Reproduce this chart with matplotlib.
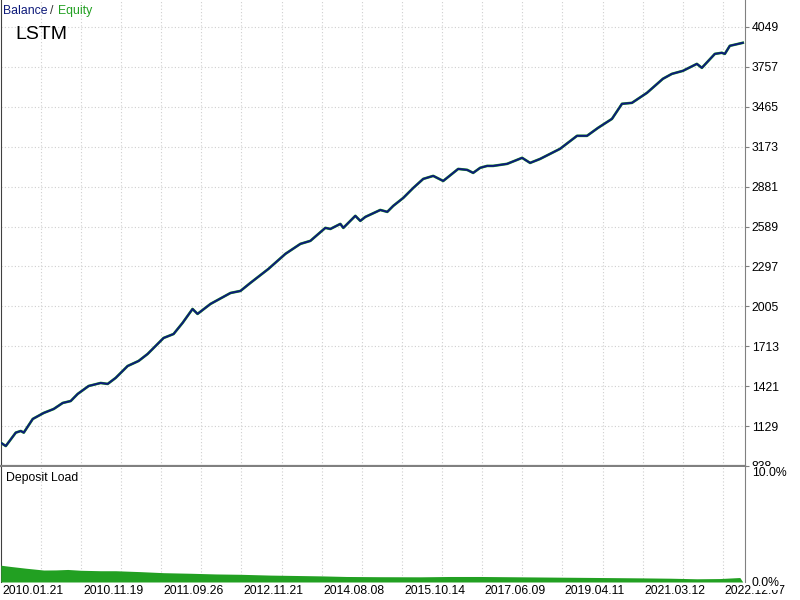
import numpy as np
import matplotlib
matplotlib.use("Agg")
import matplotlib.pyplot as plt

plt.rcParams['font.family'] = ['Liberation Sans', 'DejaVu Sans']

# deal index (x) and balance values
deal = [0, 5, 15, 20, 23, 32, 43, 53, 62, 70, 77, 88, 100, 107, 115, 127, 138, 147,
        163, 173, 182, 192, 197, 210, 230, 240, 250, 268, 285, 300, 310, 325, 330,
        340, 343, 355, 360, 365, 380, 387, 393, 403, 413, 423, 433, 443, 458, 467,
        473, 480, 487, 493, 507, 522, 530, 540, 560, 577, 587, 598, 612, 622, 632,
        647, 663, 672, 683, 697, 702, 715, 722, 725, 730, 743]
balance = [1008, 984, 1082, 1094, 1082, 1182, 1226, 1255, 1299, 1313, 1365, 1423,
           1445, 1438, 1482, 1569, 1606, 1657, 1774, 1803, 1884, 1986, 1950, 2023,
           2103, 2118, 2177, 2279, 2389, 2462, 2484, 2579, 2571, 2608, 2579, 2667,
           2630, 2659, 2710, 2696, 2740, 2798, 2871, 2937, 2959, 2922, 3010, 3003,
           2981, 3018, 3032, 3032, 3047, 3091, 3054, 3083, 3157, 3252, 3252, 3310,
           3376, 3486, 3493, 3566, 3669, 3705, 3727, 3778, 3749, 3851, 3859, 3851,
           3910, 3932]
equity = list(balance)

load_x = [0, 10, 25, 43, 55, 67, 80, 100, 115, 140, 163, 190, 215, 240, 270, 300,
          322, 346, 380, 420, 450, 480, 520, 560, 600, 640, 670, 697, 720, 740, 743]
load = [1.46, 1.35, 1.2, 1.04, 1.05, 1.09, 1.02, 0.98, 0.98, 0.9, 0.81, 0.76, 0.7,
        0.67, 0.6, 0.56, 0.53, 0.48, 0.46, 0.45, 0.48, 0.48, 0.45, 0.42, 0.39, 0.36,
        0.33, 0.28, 0.30, 0.39, 0.0]

yticks = [838, 1129, 1421, 1713, 2005, 2297, 2589, 2881, 3173, 3465, 3757, 4049]
dates = ['2010.01.21', '2010.11.19', '2011.09.26', '2012.11.21', '2014.08.08',
         '2015.10.14', '2017.06.09', '2019.04.11', '2021.03.12', '2022.12.07']

navy = '#0d1a7a'
green = '#22a022'
gridc = '#cfcfcf'
step = 40.17
xmax = 745

fig = plt.figure(figsize=(8, 6), dpi=100)
ax = fig.add_axes([0.001, 1 - 466 / 600, 744 / 800, 466 / 600])
ax2 = fig.add_axes([0.001, 1 - 582 / 600, 744 / 800, 115 / 600])

vgrid = [k * step for k in range(1, 19)]

# main panel
ax.plot(deal, equity, color=green, lw=1.9, zorder=3)
ax.plot(deal, balance, color=navy, lw=1.4, zorder=4)
ax.set_xlim(0, xmax)
ax.set_ylim(838, 4245)
ax.set_yticks(yticks)
ax.set_yticklabels([str(v) for v in yticks])
ax.yaxis.tick_right()
ax.tick_params(axis='y', length=3, color='#808080', pad=2, labelsize=8.8)
ax.set_xticks([])
for v in yticks[1:]:
    ax.axhline(v, color=gridc, lw=0.8, ls=(0, (1, 2)), zorder=1)
for g in vgrid:
    ax.axvline(g, color=gridc, lw=0.8, ls=(0, (1, 2)), zorder=1)
ax.spines['top'].set_visible(False)
ax.spines['left'].set_color('#404040')
ax.spines['right'].set_color('#808080')
ax.spines['bottom'].set_color('#808080')
ax.spines['bottom'].set_linewidth(1.6)
ax.text(15, 3995, 'LSTM', fontsize=14, color='black', va='center', ha='left')

# deposit load panel
ax2.fill_between(load_x, load, 0, color=green, lw=0, zorder=3)
ax2.set_xlim(0, xmax)
ax2.set_ylim(0, 10)
ax2.set_yticks([0, 10])
ax2.set_yticklabels(['0.0%', '10.0%'])
ax2.yaxis.tick_right()
ax2.tick_params(axis='y', length=0, pad=5, labelsize=8.8)
labs = ax2.get_yticklabels()
labs[1].set_va('top')
for lab in labs:
    lab.set_bbox(dict(facecolor='white', edgecolor='none', pad=0.5))
for g in vgrid:
    ax2.axvline(g, color=gridc, lw=0.8, ls=(0, (1, 2)), zorder=1)
ax2.set_xticks([2 + i * 2 * step for i in range(len(dates))])
ax2.set_xticklabels(dates, ha='left')
ax2.tick_params(axis='x', length=0, pad=2, labelsize=8.8)
ax2.spines['top'].set_visible(False)
ax2.spines['bottom'].set_visible(False)
ax2.spines['left'].set_color('#404040')
ax2.spines['right'].set_color('#808080')
ax2.text(5, 9.0, 'Deposit Load', fontsize=8.8, va='center', ha='left')

# header
fig.text(3 / 800, 1 - 11 / 600, 'Balance', color=navy, fontsize=8.8, va='center')
fig.text(50 / 800, 1 - 11 / 600, '/', color='#333333', fontsize=8.8, va='center')
fig.text(58 / 800, 1 - 11 / 600, 'Equity', color=green, fontsize=8.8, va='center')

fig.savefig('out.png', dpi=100)
